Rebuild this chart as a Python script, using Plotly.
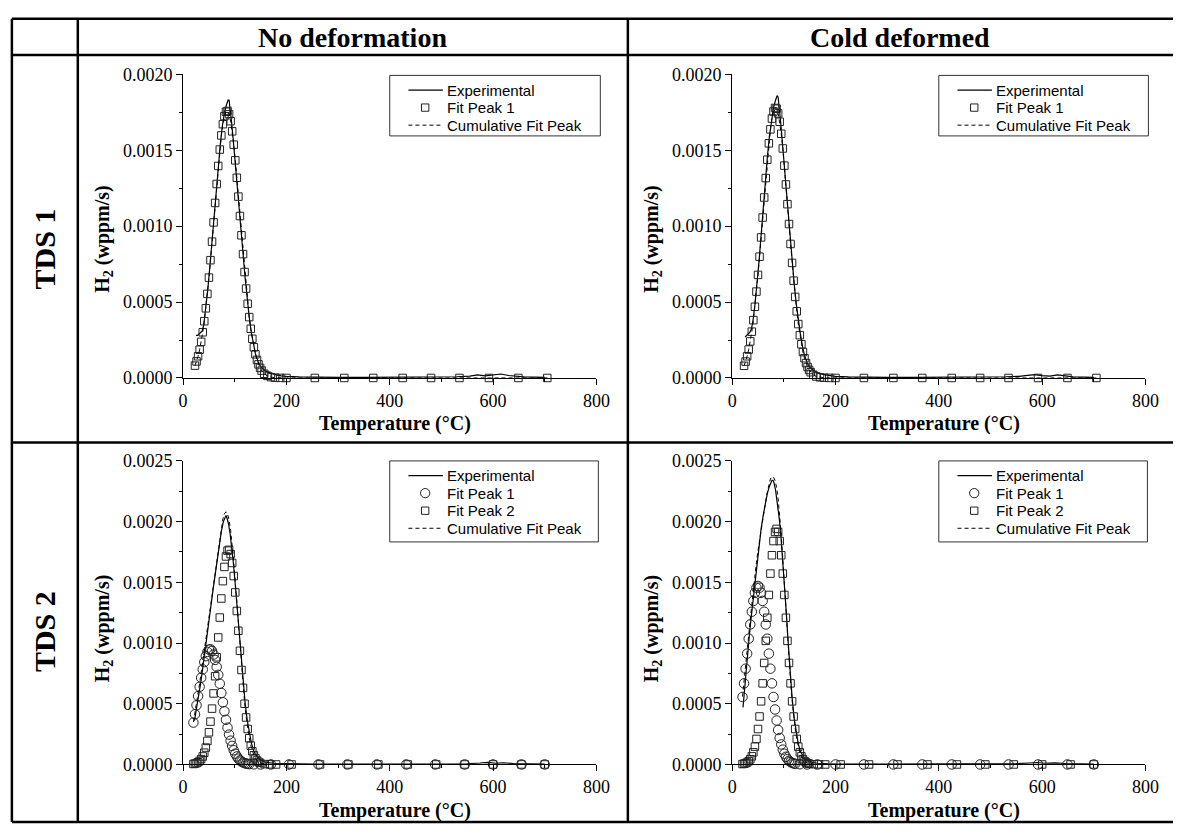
import plotly.graph_objects as go

# ---------------- DATA ----------------
# TDS 1 (single peak) - fit grid temperatures (deg C)
T_TDS1_FIT = [23, 26, 29, 32, 35, 38, 41, 44, 47, 50, 53, 56, 59, 62, 65, 68, 71, 74, 77, 80,
              83, 86, 89, 92, 95, 98, 101, 104, 107, 110, 113, 116, 119, 122, 125, 128, 131, 134,
              137, 140, 143, 146, 149, 152, 157, 163, 170, 178, 188, 200, 255, 312, 368, 425,
              480, 535, 592, 649, 705]
ND1_FIT = [0.0000813, 0.000109, 0.000143, 0.000186, 0.000238, 0.000301, 0.000374, 0.000459,
           0.000554, 0.000661, 0.000776, 0.000898, 0.001025, 0.001153, 0.001278, 0.001397,
           0.001505, 0.001598, 0.001672, 0.001725, 0.001754, 0.001759, 0.001738, 0.001692,
           0.001625, 0.001537, 0.001434, 0.001319, 0.001195, 0.001067, 0.00094, 0.000816,
           0.000698, 0.000589, 0.000489, 0.000401, 0.000324, 0.000258, 0.000202, 0.000156,
           0.000119, 0.0000896, 0.0000664, 0.0000485, 0.0000278, 0.000014, 0.0000055,
           0.0000018, 0.0000004, 0, 0, 0, 0, 0, 0, 0, 0, 0, 0]
CD1_FIT = [0.0000801, 0.000108, 0.000143, 0.000187, 0.000241, 0.000305, 0.000381, 0.000469,
           0.000569, 0.000679, 0.000799, 0.000926, 0.001057, 0.001189, 0.001317, 0.001438,
           0.001546, 0.001638, 0.001709, 0.001756, 0.001779, 0.001774, 0.001743, 0.001688,
           0.001609, 0.001512, 0.001399, 0.001275, 0.001145, 0.001014, 0.000883, 0.000758,
           0.000641, 0.000534, 0.000439, 0.000355, 0.000282, 0.000222, 0.000171, 0.00013,
           0.0000979, 0.0000723, 0.0000527, 0.0000378, 0.000021, 0.0000095, 0.000004,
           0.0000015, 0.0000004, 0, 0, 0, 0, 0, 0, 0, 0, 0, 0]

T_TDS1_EXP = [25, 28, 31, 34, 37, 40, 44, 48, 52, 56, 60, 64, 68, 72, 76, 80, 84, 87, 89, 91,
              94, 97, 100, 104, 108, 112, 116, 120, 124, 128, 132, 136, 140, 145, 150, 160, 170,
              180, 190, 200, 225, 250, 300, 350, 400, 450, 500, 530, 555, 570, 585, 600, 615,
              630, 645, 660, 680, 700]
ND1_EXP = [0.00028, 0.00028, 0.00029, 0.00030, 0.00031, 0.00035,
           0.00046, 0.00059, 0.00074, 0.00090, 0.00107, 0.00124, 0.00140, 0.00154, 0.00166, 0.00175,
           0.00180, 0.00183, 0.00183, 0.00178, 0.00168, 0.00157, 0.00146,
           0.00131, 0.00115, 0.00098, 0.00082, 0.00066, 0.00052, 0.00040, 0.00030, 0.00022, 0.00016,
           0.00011, 0.000075, 0.000045, 0.00003, 0.00002, 0.000014, 0.00001,
           0.000007, 0.000005, 0.000004, 0.000004, 0.000004, 0.000005, 0.000006,
           0.000008, 0.000012, 0.00002, 0.000014, 0.00002, 0.000026, 0.000016, 0.00001,
           0.000007, 0.000005, 0.000004]
CD1_EXP = [0.00027, 0.00028, 0.00029, 0.0003, 0.00032, 0.00037,
           0.00048, 0.00061, 0.00077, 0.00094, 0.00112, 0.00129, 0.00145, 0.00159, 0.00170, 0.00178,
           0.00183, 0.00186, 0.00185, 0.00179, 0.00168, 0.00156, 0.00143,
           0.00127, 0.00110, 0.00093, 0.00077, 0.00062, 0.00049, 0.00038, 0.00029, 0.00021, 0.00015,
           0.0001, 0.00007, 0.000042, 0.000028, 0.00002, 0.000014, 0.00001,
           0.000007, 0.000005, 0.000004, 0.000004, 0.000004, 0.000005, 0.000006,
           0.000008, 0.000011, 0.000016, 0.000022, 0.000015, 0.000012, 0.00002, 0.000012,
           0.000007, 0.000005, 0.000004]

# TDS 2 (two peaks)
T_TDS2_GRID = [20, 23, 26, 29, 32, 35, 38, 41, 44, 47, 50, 53, 56, 59, 62, 65, 68, 71, 74, 77,
               80, 83, 86, 89, 92, 95, 98, 101, 104, 107, 110, 113, 116, 119, 122, 125, 128,
               131, 134, 137, 140, 143, 146, 149]
T_P2_TAIL = [158, 168, 180, 210, 265, 320, 378, 435, 490, 545, 600, 655, 700]
T_CUM_TAIL = [160, 200, 300, 400, 500, 600, 700]

# No deformation, TDS 2
T_ND2_P1 = [20, 23, 26, 29, 32, 35, 38, 41, 44, 47, 50, 53, 56, 59, 62, 65, 68, 71, 74, 77,
            80, 83, 86, 89, 92, 95, 98, 101, 104, 107, 110, 113, 116, 119, 122, 125, 128,
            137, 150, 170, 205, 262, 318, 375, 432, 488, 545, 600, 655, 700]
ND2_P1 = [0.000345, 0.000414, 0.000487, 0.000563, 0.00064, 0.000714, 0.000783, 0.000843,
          0.000892, 0.000927, 0.000946, 0.000949, 0.000935, 0.000905, 0.000861, 0.000804,
          0.000738, 0.000665, 0.000589, 0.000512, 0.000438, 0.000368, 0.000303, 0.000246,
          0.000196, 0.000153, 0.000117, 0.0000886, 0.0000657, 0.0000478, 0.0000342, 0.000024,
          0.0000166, 0.0000112, 0.0000075, 0.000005, 0.000003,
          0.000001, 0, 0, 0, 0, 0, 0, 0, 0, 0, 0, 0, 0]
ND2_P2 = [0.000004, 0.0000068, 0.0000113, 0.0000181, 0.0000286, 0.0000439, 0.000066, 0.0000968,
          0.000139, 0.000194, 0.000265, 0.000353, 0.00046, 0.000585, 0.000727, 0.000883,
          0.001046, 0.00121, 0.001367, 0.00151, 0.001627, 0.001713, 0.001761, 0.001768,
          0.001733, 0.00166, 0.001552, 0.001417, 0.001264, 0.001101, 0.000936, 0.000778,
          0.000631, 0.0005, 0.000387, 0.000292, 0.000216, 0.000155, 0.000109, 0.0000752,
          0.0000505, 0.0000331, 0.0000212, 0.0000132,
          0.000003, 0.0000008, 0, 0, 0, 0, 0, 0, 0, 0, 0, 0, 0]
ND2_CUM = [0.000349, 0.000421, 0.000498, 0.000581, 0.000669, 0.000758, 0.000849, 0.00094,
           0.001031, 0.001121, 0.001211, 0.001302, 0.001395, 0.00149, 0.001588, 0.001687,
           0.001784, 0.001875, 0.001956, 0.002022, 0.002065, 0.002081, 0.002064, 0.002014,
           0.001929, 0.001813, 0.001669, 0.001506, 0.00133, 0.001149, 0.00097, 0.000802,
           0.000648, 0.000511, 0.000395, 0.000297, 0.000219, 0.000155, 0.000109, 0.0000752,
           0.0000505, 0.0000331, 0.0000212, 0.0000132,
           0.000002, 0, 0, 0, 0, 0, 0]
T_ND2_EXP = [22, 25, 28, 31, 34, 37, 40, 43, 46, 50, 54, 58, 62, 66, 70, 74, 78, 81, 83, 85,
             88, 91, 94, 97, 100, 104, 108, 112, 116, 120, 124, 128, 132, 136, 140, 150, 160,
             175, 200, 250, 300, 350, 400, 450, 500, 550, 575, 590, 605, 620, 640, 670, 700]
ND2_EXP = [0.00036, 0.00043, 0.00051, 0.00059, 0.00067, 0.00076, 0.00085, 0.00094, 0.00103,
           0.00118, 0.00131, 0.00144, 0.00157, 0.00169, 0.00181, 0.00192, 0.00200,
           0.00204, 0.00205, 0.00203, 0.00198, 0.00190, 0.00180, 0.00167, 0.00153,
           0.00132, 0.00110, 0.00088, 0.00068, 0.00051, 0.00037, 0.00026, 0.00018, 0.00012, 0.00008,
           0.000035, 0.000018, 0.00001, 0.000006, 0.000004, 0.000003, 0.000003, 0.000003,
           0.000003, 0.000004, 0.000006, 0.000012, 0.000018, 0.00001, 0.000014, 0.000008,
           0.000005, 0.000004]

# Cold deformed, TDS 2
T_CD2_P1 = [20, 23, 26, 29, 32, 35, 38, 41, 44, 47, 50, 53, 56, 59, 62, 65, 68, 71, 74, 77,
            80, 83, 86, 89, 92, 95, 98, 101, 104, 107, 110, 113, 116, 119, 122,
            131, 145, 165, 200, 255, 312, 368, 425, 480, 535, 592, 649, 700]
CD2_P1 = [0.000556, 0.000668, 0.000789, 0.000913, 0.001036, 0.001153, 0.001258, 0.001347,
          0.001414, 0.001456, 0.00147, 0.001456, 0.001414, 0.001347, 0.001258, 0.001153,
          0.001036, 0.000913, 0.000789, 0.000668, 0.000556, 0.000453, 0.000362, 0.000284,
          0.000218, 0.000165, 0.000122, 0.0000883, 0.0000629, 0.0000439, 0.00003, 0.0000201,
          0.0000132, 0.0000085, 0.0000054,
          0.000002, 0.0000003, 0, 0, 0, 0, 0, 0, 0, 0, 0, 0, 0]
CD2_P2 = [0.0000033, 0.0000059, 0.00001, 0.0000168, 0.0000273, 0.0000433, 0.000067, 0.0001,
          0.000147, 0.00021, 0.000292, 0.000395, 0.00052, 0.000668, 0.000836, 0.001018,
          0.001208, 0.001396, 0.001572, 0.001723, 0.00184, 0.001915, 0.00194, 0.001915,
          0.00184, 0.001723, 0.001572, 0.001396, 0.001208, 0.001018, 0.000836, 0.000668,
          0.00052, 0.000395, 0.000292, 0.00021, 0.000147, 0.0001, 0.000067, 0.0000433,
          0.0000273, 0.0000168, 0.00001, 0.0000059,
          0.000002, 0.0000005, 0, 0, 0, 0, 0, 0, 0, 0, 0, 0, 0]
CD2_CUM = [0.000559, 0.000674, 0.000799, 0.00093, 0.001063, 0.001196, 0.001325, 0.001447,
           0.001561, 0.001666, 0.001762, 0.001851, 0.001934, 0.002015, 0.002094, 0.002171,
           0.002244, 0.002309, 0.002351, 0.002371, 0.002366, 0.002338, 0.002282, 0.002189,
           0.002058, 0.001888, 0.001694, 0.001484, 0.001271, 0.001062, 0.000866, 0.000688,
           0.000533, 0.000404, 0.000297, 0.00021, 0.000147, 0.0001, 0.000067, 0.0000433,
           0.0000273, 0.0000168, 0.00001, 0.0000059,
           0.000001, 0, 0, 0, 0, 0, 0]
T_CD2_EXP = [21, 24, 27, 30, 33, 36, 39, 42, 45, 48, 52, 56, 60, 64, 68, 72, 75, 77, 79, 81,
             84, 88, 91, 94, 97, 100, 104, 108, 112, 116, 120, 124, 128, 132, 136, 140, 150,
             165, 185, 210, 250, 300, 350, 400, 450, 500, 550, 575, 590, 605, 625, 645, 670, 700]
CD2_EXP = [0.00047, 0.00063, 0.00078, 0.00092, 0.00105, 0.00118, 0.00130, 0.00141, 0.00152, 0.00165,
           0.00181, 0.00194, 0.00205, 0.00215, 0.00223, 0.00229, 0.00232, 0.00234, 0.00234, 0.00232,
           0.00226, 0.00214, 0.00203, 0.00190, 0.00174, 0.00156, 0.00130, 0.00103, 0.00077, 0.00055,
           0.00038, 0.00026, 0.00017, 0.00011, 0.00007, 0.000045, 0.00002, 0.00001, 0.000006, 0.000004,
           0.000003, 0.000003, 0.000003, 0.000003, 0.000004, 0.000005, 0.000007, 0.000012, 0.000016,
           0.00001, 0.000013, 0.000008, 0.000005, 0.000004]

COL_TITLES = ["No deformation", "Cold deformed"]
ROW_TITLES = ["TDS 1", "TDS 2"]
X_TITLE = "Temperature (°C)"
Y_TITLE = "H<sub>2</sub> (wppm/s)"
X_TICKS = [0, 200, 400, 600, 800]
LEGEND_TDS1 = [("Experimental", "line"), ("Fit Peak 1", "square"), ("Cumulative Fit Peak", "dash")]
LEGEND_TDS2 = [("Experimental", "line"), ("Fit Peak 1", "circle"), ("Fit Peak 2", "square"),
               ("Cumulative Fit Peak", "dash")]

# ---------------- LAYOUT CONSTANTS ----------------
W, H = 1187, 834
SERIF = "Liberation Serif"
SANS = "Liberation Sans"


def px(x):
    return x / W


def py(y):
    return 1 - y / H


XL = [181, 601]
XR = [739, 1159]
YT = [66, 377]
YB = [462, 773]
MK_COLOR = "#222222"
SQ_SIZE = 7.5
CI_SIZE = 9.5

fig = go.Figure()


def exp_trace(x, y, ax):
    return go.Scatter(x=x, y=y, mode="lines", name="Experimental",
                      line=dict(color="black", width=1.2), xaxis=ax[0], yaxis=ax[1],
                      showlegend=False)


def peak_trace(x, y, ax, name, symbol, size):
    return go.Scatter(x=x, y=y, mode="markers", name=name,
                      marker=dict(symbol=symbol, size=size, color=MK_COLOR,
                                  line=dict(color=MK_COLOR, width=1)),
                      xaxis=ax[0], yaxis=ax[1], cliponaxis=False, showlegend=False)


def cum_trace(x, y, ax):
    return go.Scatter(x=x, y=y, mode="lines", name="Cumulative Fit Peak",
                      line=dict(color="black", width=1, dash="4px,3px"),
                      xaxis=ax[0], yaxis=ax[1], showlegend=False)


# TL: No deformation, TDS 1
fig.add_trace(exp_trace(T_TDS1_EXP, ND1_EXP, ("x", "y")))
fig.add_trace(peak_trace(T_TDS1_FIT, ND1_FIT, ("x", "y"), "Fit Peak 1", "square-open", SQ_SIZE))
fig.add_trace(cum_trace(T_TDS1_FIT, ND1_FIT, ("x", "y")))
# TR: Cold deformed, TDS 1
fig.add_trace(exp_trace(T_TDS1_EXP, CD1_EXP, ("x2", "y2")))
fig.add_trace(peak_trace(T_TDS1_FIT, CD1_FIT, ("x2", "y2"), "Fit Peak 1", "square-open", SQ_SIZE))
fig.add_trace(cum_trace(T_TDS1_FIT, CD1_FIT, ("x2", "y2")))
# BL: No deformation, TDS 2
fig.add_trace(exp_trace(T_ND2_EXP, ND2_EXP, ("x3", "y3")))
fig.add_trace(peak_trace(T_ND2_P1, ND2_P1, ("x3", "y3"), "Fit Peak 1", "circle-open", CI_SIZE))
fig.add_trace(peak_trace(T_TDS2_GRID + T_P2_TAIL, ND2_P2, ("x3", "y3"), "Fit Peak 2", "square-open", SQ_SIZE))
fig.add_trace(cum_trace(T_TDS2_GRID + T_CUM_TAIL, ND2_CUM, ("x3", "y3")))
# BR: Cold deformed, TDS 2
fig.add_trace(exp_trace(T_CD2_EXP, CD2_EXP, ("x4", "y4")))
fig.add_trace(peak_trace(T_CD2_P1, CD2_P1, ("x4", "y4"), "Fit Peak 1", "circle-open", CI_SIZE))
fig.add_trace(peak_trace(T_TDS2_GRID + T_P2_TAIL, CD2_P2, ("x4", "y4"), "Fit Peak 2", "square-open", SQ_SIZE))
fig.add_trace(cum_trace(T_TDS2_GRID + T_CUM_TAIL, CD2_CUM, ("x4", "y4")))

tickfont = dict(family=SERIF, size=18, color="black")


def xax(dom, anchor):
    return dict(domain=[px(dom[0]), px(dom[1])], anchor=anchor, range=[0, 800],
                tickvals=X_TICKS, showline=True, linecolor="black", linewidth=1,
                ticks="outside", ticklen=6, tickwidth=1, tickcolor="black",
                minor=dict(ticks="outside", ticklen=3, dtick=100, tick0=0, tickcolor="black"),
                showgrid=False, zeroline=False, tickfont=tickfont)


def yax(dom, anchor, top):
    return dict(domain=[py(dom[1]), py(dom[0])], anchor=anchor, range=[0, top],
                dtick=0.0005, tick0=0, tickformat=".4f", showline=True, linecolor="black",
                linewidth=1, ticks="outside", ticklen=6, tickwidth=1, tickcolor="black",
                minor=dict(ticks="outside", ticklen=3, dtick=0.00025, tick0=0, tickcolor="black"),
                showgrid=False, zeroline=False, tickfont=tickfont)


annotations = []
shapes = []

for title, cx in zip(COL_TITLES, [(74 + 633) / 2, (633 + 1187) / 2]):
    annotations.append(dict(text="<b>" + title + "</b>", x=px(cx), y=py(28), xref="paper", yref="paper",
                            showarrow=False, xanchor="center", yanchor="middle",
                            font=dict(family=SERIF, size=28, color="black")))
for title, cy in zip(ROW_TITLES, [245, 637]):
    annotations.append(dict(text="<b>" + title + "</b>", x=px(40), y=py(cy), xref="paper", yref="paper",
                            showarrow=False, textangle=-90, xanchor="center", yanchor="middle",
                            font=dict(family=SERIF, size=30, color="black")))
for yx in [100, 658]:
    for yy in [234, 633]:
        annotations.append(dict(text="<b>" + Y_TITLE + "</b>", x=px(yx), y=py(yy), xref="paper",
                                yref="paper", showarrow=False, textangle=-90, xanchor="center",
                                yanchor="middle", font=dict(family=SERIF, size=20, color="black")))
for xx in [396, 954]:
    for xy in [424, 820]:
        annotations.append(dict(text="<b>" + X_TITLE + "</b>", x=px(xx), y=py(xy), xref="paper",
                                yref="paper", showarrow=False, xanchor="center", yanchor="middle",
                                font=dict(family=SERIF, size=20, color="black")))


# ---- legends (box + symbols + labels) ----
def add_legend(items, left, right, top, bottom, first_y, step):
    shapes.append(dict(type="rect", xref="paper", yref="paper", x0=px(left), x1=px(right),
                       y0=py(bottom), y1=py(top), line=dict(color="#333333", width=1),
                       fillcolor="white", layer="above"))
    for i, (label, kind) in enumerate(items):
        yc = first_y + i * step
        if kind in ("line", "dash"):
            shapes.append(dict(type="line", xref="paper", yref="paper", x0=px(left + 19),
                               x1=px(left + 54), y0=py(yc), y1=py(yc),
                               line=dict(color="black", width=1.2 if kind == "line" else 1,
                                         dash="solid" if kind == "line" else "4px,3px")))
        elif kind == "square":
            h = SQ_SIZE / 2
            shapes.append(dict(type="rect", xref="paper", yref="paper", x0=px(left + 36 - h),
                               x1=px(left + 36 + h), y0=py(yc + h), y1=py(yc - h),
                               line=dict(color=MK_COLOR, width=1)))
        elif kind == "circle":
            h = CI_SIZE / 2
            shapes.append(dict(type="circle", xref="paper", yref="paper", x0=px(left + 36 - h),
                               x1=px(left + 36 + h), y0=py(yc + h), y1=py(yc - h),
                               line=dict(color=MK_COLOR, width=1)))
        annotations.append(dict(text=label, x=px(left + 56), y=py(yc), xref="paper", yref="paper",
                                showarrow=False, xanchor="left", yanchor="middle",
                                font=dict(family=SANS, size=15, color="black")))


add_legend(LEGEND_TDS1, 391, 605, 67, 129, 82, 18)
add_legend(LEGEND_TDS1, 949, 1162, 67, 129, 82, 18)
add_legend(LEGEND_TDS2, 391, 603, 462, 545, 477, 18)
add_legend(LEGEND_TDS2, 949, 1161, 462, 545, 477, 18)

# ---- table grid ----
LW = 2.5
for yl in [9, 46, 443, 832]:
    shapes.append(dict(type="line", xref="paper", yref="paper", x0=px(7), x1=1, y0=py(yl), y1=py(yl),
                       line=dict(color="black", width=LW)))
for xl in [7, 74, 633]:
    shapes.append(dict(type="line", xref="paper", yref="paper", x0=px(xl), x1=px(xl), y0=py(9), y1=py(832),
                       line=dict(color="black", width=LW)))

fig.update_layout(
    width=W, height=H, autosize=False,
    margin=dict(l=0, r=0, t=0, b=0, pad=0),
    paper_bgcolor="white", plot_bgcolor="rgba(0,0,0,0)",
    showlegend=False,
    xaxis=xax(XL, "y"), yaxis=yax(YT, "x", 0.002),
    xaxis2=xax(XR, "y2"), yaxis2=yax(YT, "x2", 0.002),
    xaxis3=xax(XL, "y3"), yaxis3=yax(YB, "x3", 0.0025),
    xaxis4=xax(XR, "y4"), yaxis4=yax(YB, "x4", 0.0025),
    annotations=annotations, shapes=shapes,
)

fig.write_html("out.html")
